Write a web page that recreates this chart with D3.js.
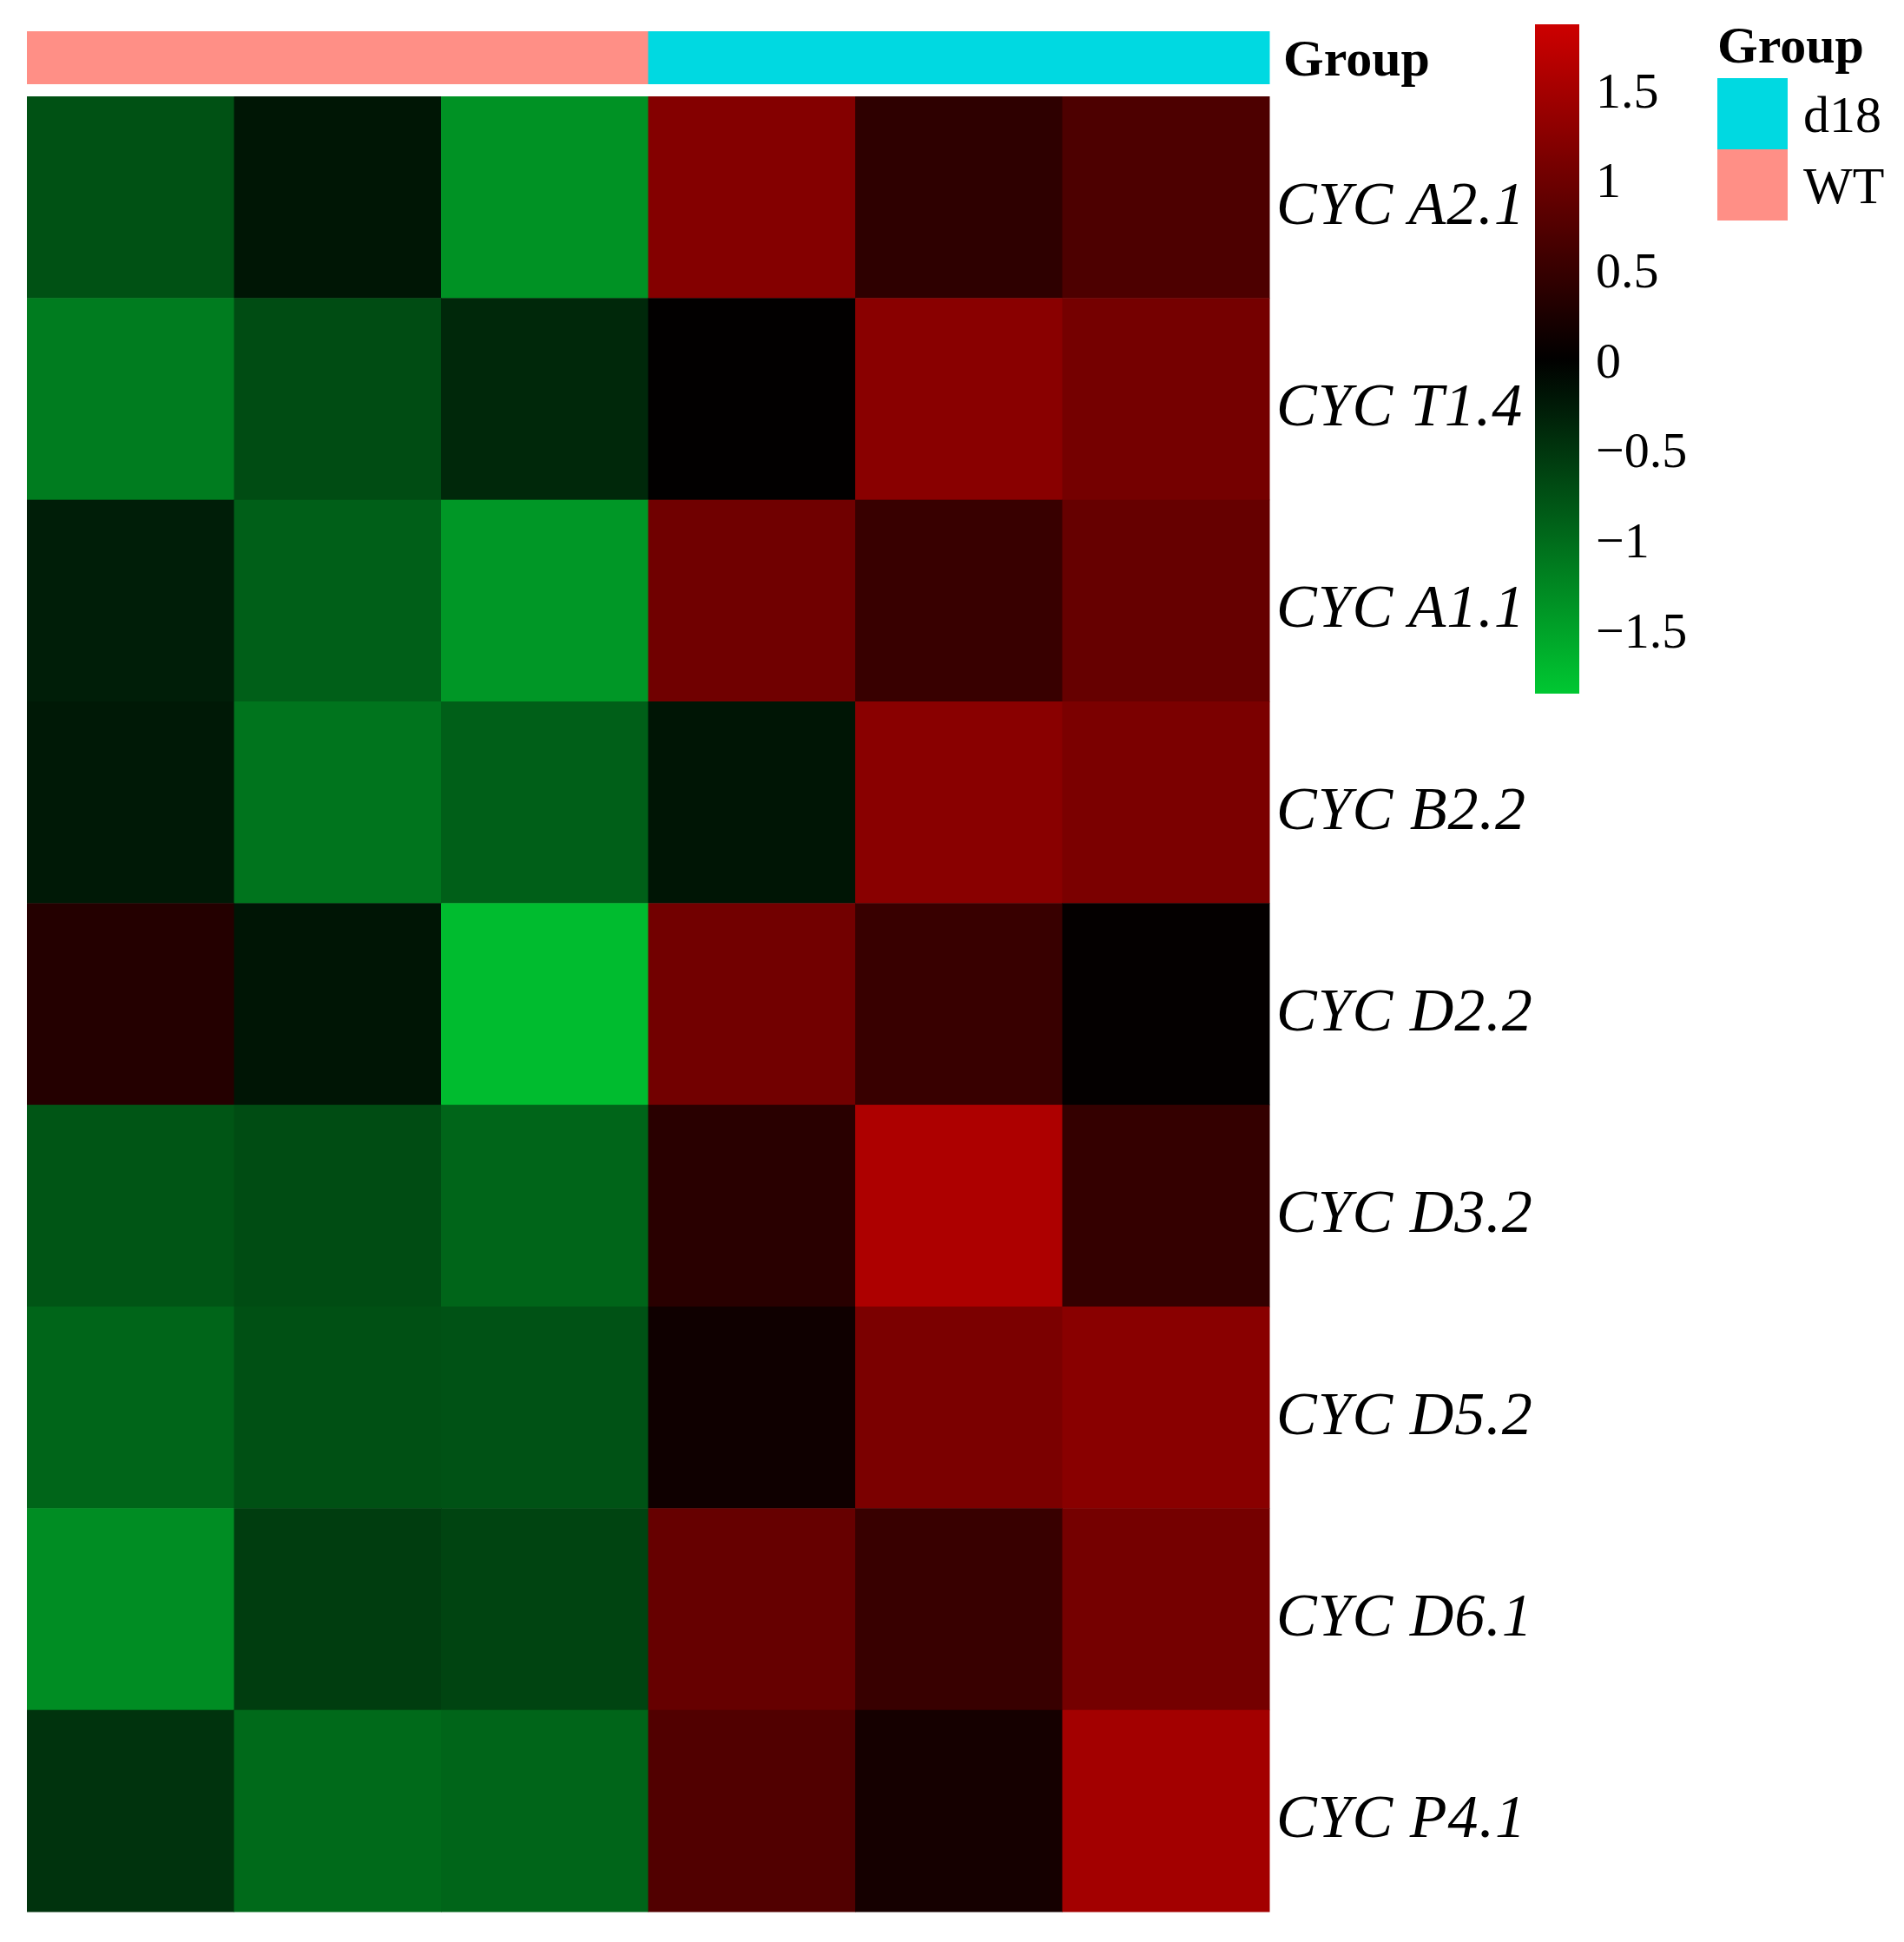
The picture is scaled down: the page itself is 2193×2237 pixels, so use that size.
<!DOCTYPE html>
<html>
<head>
<meta charset="utf-8">
<script src="https://cdn.jsdelivr.net/npm/d3@7"></script>
<style>
  html, body { margin: 0; padding: 0; background: #ffffff; }
  svg { display: block; }
  text { font-family: "Liberation Serif", "Times New Roman", serif; fill: #000; }
</style>
</head>
<body>
<svg id="chart" width="2193" height="2237"></svg>
<script>
// ---------- data ----------
const genes = ["CYC A2.1", "CYC T1.4", "CYC A1.1", "CYC B2.2", "CYC D2.2", "CYC D3.2", "CYC D5.2", "CYC D6.1", "CYC P4.1"];
const samples = ["WT_1", "WT_2", "WT_3", "d18_1", "d18_2", "d18_3"];
const sampleGroups = ["WT", "WT", "WT", "d18", "d18", "d18"];
const groupLevels = ["d18", "WT"];
const groupColors = ["#00D9E1", "#FF8F86"];

const rowCYC_A2_1 = [-0.75, -0.20, -1.35, 1.20, 0.42, 0.70];
const rowCYC_T1_4 = [-1.15, -0.70, -0.37, 0.02, 1.25, 1.07];
const rowCYC_A1_1 = [-0.28, -0.88, -1.40, 1.02, 0.51, 0.93];
const rowCYC_B2_2 = [-0.23, -1.07, -0.88, -0.19, 1.25, 1.12];
const rowCYC_D2_2 = [0.33, -0.19, -1.74, 1.04, 0.51, 0.04];
const rowCYC_D3_2 = [-0.79, -0.70, -0.93, 0.37, 1.58, 0.47];
const rowCYC_D5_2 = [-0.93, -0.74, -0.76, 0.14, 1.12, 1.25];
const rowCYC_D6_1 = [-1.30, -0.56, -0.63, 0.93, 0.51, 1.07];
const rowCYC_P4_1 = [-0.47, -0.98, -0.93, 0.74, 0.19, 1.49];
const values = [rowCYC_A2_1, rowCYC_T1_4, rowCYC_A1_1, rowCYC_B2_2, rowCYC_D2_2, rowCYC_D3_2, rowCYC_D5_2, rowCYC_D6_1, rowCYC_P4_1];

const colorDomain = [-1.85, 0, 1.87];
const colorRange = ["#00C832", "#000000", "#CD0000"];
const legendTicks = [-1.5, -1, -0.5, 0, 0.5, 1, 1.5];

// ---------- layout ----------
const svg = d3.select("#chart");
const hmLeft = 31, hmRight = 1462, hmTop = 111, hmBottom = 2202;
const annTop = 36, annBottom = 97;

const x = d3.scaleBand().domain(samples).range([hmLeft, hmRight]).paddingInner(0);
const y = d3.scaleBand().domain(genes).range([hmTop, hmBottom]).paddingInner(0);
const color = d3.scaleLinear().domain(colorDomain).range(colorRange).interpolate(d3.interpolateRgb).clamp(true);
const groupColor = d3.scaleOrdinal().domain(groupLevels).range(groupColors);

// annotation bar
svg.append("g").selectAll("rect")
  .data(samples.map((s, i) => ({ s, g: sampleGroups[i] })))
  .join("rect")
  .attr("x", d => x(d.s))
  .attr("y", annTop)
  .attr("width", x.bandwidth() + 0.5)
  .attr("height", annBottom - annTop)
  .attr("fill", d => groupColor(d.g));

svg.append("text")
  .attr("x", 1478).attr("y", 87)
  .attr("font-size", 60).attr("font-weight", "bold")
  .text("Group");

// heatmap cells
const cells = [];
genes.forEach((g, i) => samples.forEach((s, j) => cells.push({ g, s, v: values[i][j] })));
svg.append("g").selectAll("rect")
  .data(cells)
  .join("rect")
  .attr("x", d => x(d.s))
  .attr("y", d => y(d.g))
  .attr("width", x.bandwidth() + 0.5)
  .attr("height", y.bandwidth() + 0.5)
  .attr("fill", d => color(d.v));

// row labels
svg.append("g").selectAll("text")
  .data(genes)
  .join("text")
  .attr("x", hmRight + 8)
  .attr("y", d => y(d) + y.bandwidth() / 2 + 6)
  .attr("dy", "0.35em")
  .attr("font-size", 70)
  .attr("font-style", "italic")
  .attr("letter-spacing", 1)
  .text(d => d);

// colour bar legend
const cbLeft = 1768, cbWidth = 51, cbTop = 28, cbBottom = 799;
const cbScale = d3.scaleLinear().domain([colorDomain[0], colorDomain[2]]).range([cbBottom, cbTop]);
const defs = svg.append("defs");
const grad = defs.append("linearGradient").attr("id", "cbgrad")
  .attr("x1", 0).attr("y1", 1).attr("x2", 0).attr("y2", 0);
d3.range(0, 1.0001, 0.05).forEach(t => {
  const v = colorDomain[0] + t * (colorDomain[2] - colorDomain[0]);
  grad.append("stop").attr("offset", t).attr("stop-color", color(v));
});
svg.append("rect")
  .attr("x", cbLeft).attr("y", cbTop)
  .attr("width", cbWidth).attr("height", cbBottom - cbTop)
  .attr("fill", "url(#cbgrad)");

const cbAxis = svg.append("g")
  .attr("transform", `translate(${cbLeft + cbWidth},0)`)
  .call(d3.axisRight(cbScale).tickValues(legendTicks).tickSize(0).tickPadding(19).tickFormat(d3.format("")));
cbAxis.select(".domain").remove();
cbAxis.selectAll("text")
  .attr("font-size", 58)
  .attr("font-family", "Liberation Serif, Times New Roman, serif")
  .attr("fill", "#000");

// group legend
const lgX = 1978, lgTop = 90, swH = 82, swW = 81;
svg.append("text")
  .attr("x", lgX).attr("y", 72)
  .attr("font-size", 60).attr("font-weight", "bold")
  .text("Group");
const lg = svg.append("g").selectAll("g")
  .data(groupLevels)
  .join("g")
  .attr("transform", (d, i) => `translate(${lgX},${lgTop + i * swH})`);
lg.append("rect")
  .attr("width", swW).attr("height", swH)
  .attr("fill", d => groupColor(d));
lg.append("text")
  .attr("x", swW + 18).attr("y", swH / 2)
  .attr("dy", "0.35em")
  .attr("font-size", 60)
  .text(d => d);
</script>
</body>
</html>
